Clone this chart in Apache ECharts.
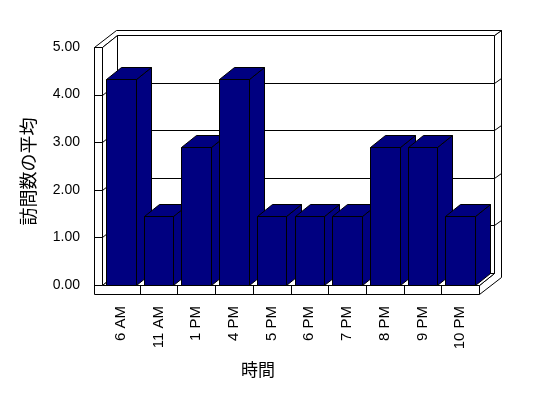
<!DOCTYPE html>
<html>
<head>
<meta charset="utf-8">
<script src="https://cdn.jsdelivr.net/npm/echarts@6/dist/echarts.min.js"></script>
<style>
  html, body { margin: 0; padding: 0; background: #fff; }
  #chart { width: 548px; height: 398px; }
</style>
</head>
<body>
<div id="chart"></div>
<script>
// data
const categories = ['6 AM', '11 AM', '1 PM', '4 PM', '5 PM', '6 PM', '7 PM', '8 PM', '9 PM', '10 PM']
const avgVisits = [4.33, 1.44, 2.89, 4.33, 1.44, 1.44, 1.44, 2.89, 2.89, 1.44]
const yTicks = [0, 1, 2, 3, 4, 5]

// 3D look (pixels)
const D1 = [15, -12]    // depth of the bars / inner back wall
const D2 = [21.5, -17]  // outer face of the back wall
const WALL = 8          // left wall thickness
const FLOOR = 9         // floor thickness
const BAR_COLOR = '#000080'

const snap = (p) => [Math.round(p[0]) + 0.5, Math.round(p[1]) + 0.5]

function poly(points, fill) {
  return {
    type: 'polygon',
    shape: { points: points.map(snap) },
    style: { fill: fill, stroke: '#000', lineWidth: 1 }
  }
}

function polyline(points) {
  return {
    type: 'polyline',
    shape: { points: points.map(snap) },
    style: { fill: null, stroke: '#000', lineWidth: 1 }
  }
}

// walls, floor, gridlines and ticks
function renderFrame(params, api) {
  const cs = params.coordSys
  const L = cs.x, R = cs.x + cs.width, T = cs.y, B = cs.y + cs.height
  const kids = []

  // right side of back wall + floor
  kids.push(poly([
    [R + D1[0], T + D1[1]], [R + D2[0], T + D2[1]],
    [R + D2[0], B + FLOOR + D2[1]], [R, B + FLOOR], [R, B], [R + D1[0], B + D1[1]]
  ], '#fff'))
  // top of walls
  kids.push(poly([
    [L - WALL, T], [L, T], [L + D1[0], T + D1[1]], [R + D1[0], T + D1[1]],
    [R + D2[0], T + D2[1]], [L - WALL + D2[0], T + D2[1]]
  ], '#fff'))
  // back wall inner face
  kids.push(poly([
    [L + D1[0], T + D1[1]], [R + D1[0], T + D1[1]], [R + D1[0], B + D1[1]], [L + D1[0], B + D1[1]]
  ], '#fff'))
  // left wall inner face
  kids.push(poly([[L, T], [L + D1[0], T + D1[1]], [L + D1[0], B + D1[1]], [L, B]], '#fff'))
  // floor top
  kids.push(poly([[L, B], [R, B], [R + D1[0], B + D1[1]], [L + D1[0], B + D1[1]]], '#fff'))

  // gridlines
  yTicks.forEach((v) => {
    if (v === yTicks[0] || v === yTicks[yTicks.length - 1]) return
    const y = api.coord([0, v])[1]
    kids.push(polyline([
      [L, y], [L + D1[0], y + D1[1]], [R + D1[0], y + D1[1]], [R + D2[0], y + D2[1]]
    ]))
  })

  // front face of left wall + floor
  kids.push(poly([
    [L - WALL, T], [L, T], [L, B], [R, B], [R, B + FLOOR], [L - WALL, B + FLOOR]
  ], '#fff'))

  // value ticks across the wall front
  yTicks.forEach((v) => {
    const y = api.coord([0, v])[1]
    kids.push(polyline([[L - WALL, y], [L, y]]))
  })
  // category ticks across the floor front
  for (let k = 1; k < categories.length; k++) {
    const x = (api.coord([k - 1, 0])[0] + api.coord([k, 0])[0]) / 2
    kids.push(polyline([[x, B], [x, B + FLOOR]]))
  }

  return { type: 'group', children: kids }
}

function renderBar(params, api) {
  const top = api.coord([api.value(0), api.value(1)])
  const base = api.coord([api.value(0), 0])
  const bw = api.size([1, 0])[0] * 0.785
  const x0 = top[0] - bw / 2
  const x1 = top[0] + bw / 2
  const ty = top[1], by = base[1]
  return {
    type: 'group',
    children: [
      poly([[x1, ty], [x1 + D1[0], ty + D1[1]], [x1 + D1[0], by + D1[1]], [x1, by]], BAR_COLOR),
      poly([[x0, ty], [x1, ty], [x1 + D1[0], ty + D1[1]], [x0 + D1[0], ty + D1[1]]], BAR_COLOR),
      poly([[x0, ty], [x1, ty], [x1, by], [x0, by]], BAR_COLOR)
    ]
  }
}

const chart = echarts.init(document.getElementById('chart'))

const option = {
  animation: false,
  textStyle: { fontFamily: 'Liberation Sans, Arial, sans-serif', color: '#000' },
  grid: { left: 102, right: 69, top: 47, bottom: 113 },
  xAxis: {
    type: 'category',
    data: categories,
    axisLine: { show: false },
    axisTick: { show: false },
    axisLabel: { rotate: 90, interval: 0, margin: 21, fontSize: 15, color: '#000' },
    name: '時間',
    nameLocation: 'middle',
    nameGap: 76,
    nameTextStyle: {
      fontFamily: 'Noto Sans CJK JP', fontSize: 17, color: '#000',
      padding: [0, 65, 0, 0]
    }
  },
  yAxis: {
    type: 'value',
    min: yTicks[0],
    max: yTicks[yTicks.length - 1],
    interval: 1,
    axisLine: { show: false },
    axisTick: { show: false },
    splitLine: { show: false },
    axisLabel: { margin: 22, fontSize: 14, color: '#000', formatter: (v) => v.toFixed(2) },
    name: '訪問数の平均',
    nameLocation: 'middle',
    nameGap: 65,
    nameTextStyle: {
      fontFamily: 'Noto Sans CJK JP', fontSize: 18, color: '#000',
      padding: [0, 11, 0, 0]
    }
  },
  series: [
    {
      type: 'custom',
      name: 'frame',
      z: 1,
      silent: true,
      renderItem: renderFrame,
      data: [[0, 0]]
    },
    {
      type: 'custom',
      name: '訪問数の平均',
      z: 2,
      renderItem: renderBar,
      encode: { x: 0, y: 1 },
      data: avgVisits.map((v, i) => [i, v])
    }
  ]
}

chart.setOption(option)
</script>
</body>
</html>
